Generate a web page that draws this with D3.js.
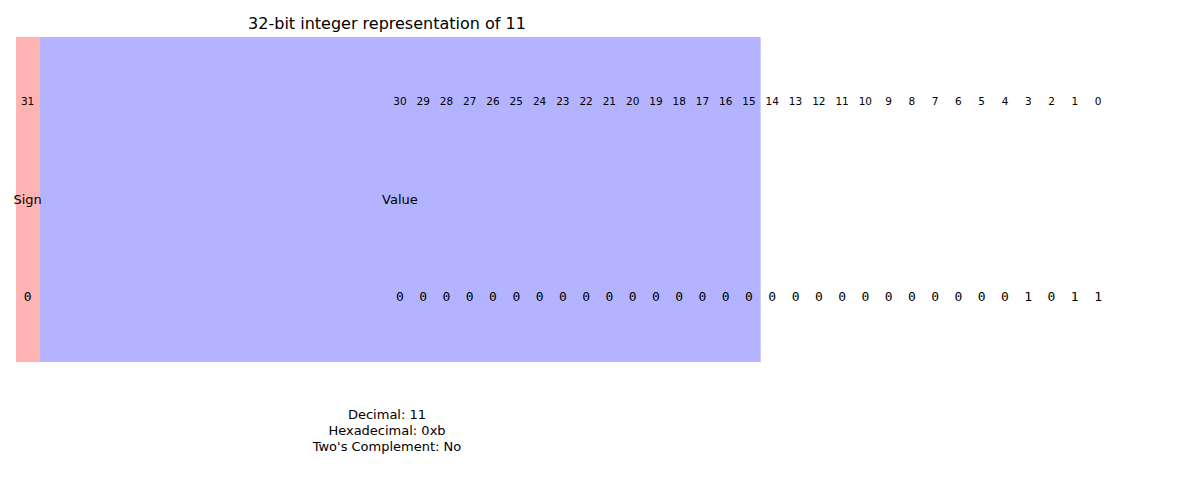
<!DOCTYPE html>
<html>
<head>
<meta charset="utf-8">
<script src="https://cdn.jsdelivr.net/npm/d3@7"></script>
<style>
  body { margin: 0; background: #fff; }
  text { font-family: "DejaVu Sans", sans-serif; fill: #000; }
</style>
</head>
<body>
<svg id="chart" width="1200" height="500"></svg>
<script>
// data
var number = 11;
var bitIndices = d3.range(31, -1, -1);           // 31 .. 0
var bitValues = bitIndices.map(function (b) { return (number >>> b) & 1; });
var sections = [
    { name: "Sign", start: 0, end: 1, color: "#ffb3b3" },
    { name: "Value", start: 1, end: 32, color: "#b3b3ff" }
];
var infoLines = ["Decimal: 11", "Hexadecimal: 0xb", "Two's Complement: No"];

var svg = d3.select("#chart");

// one unit = one bit cell
var x = d3.scaleLinear().domain([0, 1]).range([16, 16 + 23.27]);
var y = d3.scaleLinear().domain([0, 1]).range([37, 362]);

// the value labels are laid out from the middle of the value block
function labelPos(b) {
    if (b === 31) return 0.5;
    return (sections[1].start + sections[1].end) / 2 + (30 - b);
}

svg.selectAll("rect.section")
    .data(sections)
    .enter().append("rect")
    .attr("class", "section")
    .attr("x", function (d) { return x(d.start); })
    .attr("width", function (d) { return x(d.end) - x(d.start); })
    .attr("y", y(0))
    .attr("height", y(1) - y(0))
    .attr("fill", function (d) { return d.color; });

svg.append("text")
    .attr("x", 387).attr("y", 29)
    .attr("text-anchor", "middle")
    .style("font-size", "16px")
    .text("32-bit integer representation of " + number);

// bit index labels
svg.selectAll("text.idx")
    .data(bitIndices)
    .enter().append("text")
    .attr("class", "idx")
    .attr("x", function (d) { return x(labelPos(d)); })
    .attr("y", 105)
    .attr("text-anchor", "middle")
    .style("font-size", "10.5px")
    .text(function (d) { return d; });

// section names
svg.selectAll("text.sec")
    .data(sections)
    .enter().append("text")
    .attr("class", "sec")
    .attr("x", function (d, i) { return x(i === 0 ? 0.5 : labelPos(30)); })
    .attr("y", 204)
    .attr("text-anchor", "middle")
    .style("font-size", "13px")
    .text(function (d) { return d.name; });

// bit values
svg.selectAll("text.bit")
    .data(bitValues)
    .enter().append("text")
    .attr("class", "bit")
    .attr("x", function (d, i) { return x(labelPos(bitIndices[i])); })
    .attr("y", 301)
    .attr("text-anchor", "middle")
    .style("font-family", "'DejaVu Sans Mono', monospace")
    .style("font-size", "13px")
    .text(function (d) { return d; });

svg.selectAll("text.info")
    .data(infoLines)
    .enter().append("text")
    .attr("class", "info")
    .attr("x", 387)
    .attr("y", function (d, i) { return 419 + i * 16; })
    .attr("text-anchor", "middle")
    .style("font-size", "13px")
    .text(function (d) { return d; });
</script>
</body>
</html>
